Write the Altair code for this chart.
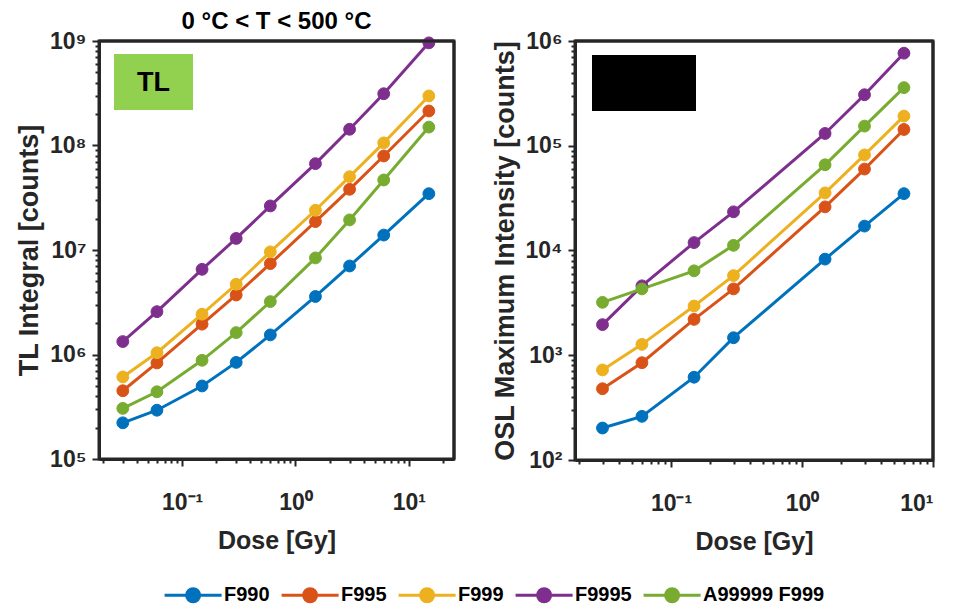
import math
import altair as alt
import pandas as pd

# ---------------- data ----------------
series = ["F990", "F995", "F999", "F9995", "A99999 F999"]
colors = ["#0072BD", "#D95319", "#EDB120", "#7E2F8E", "#77AC30"]

dose_tl = [0.03, 0.06, 0.15, 0.3, 0.6, 1.5, 3, 6, 15]
tl_F990 = [2.22e5, 2.93e5, 5.0e5, 8.4e5, 1.54e6, 3.59e6, 7.03e6, 1.39e7, 3.46e7]
tl_F995 = [4.5e5, 8.3e5, 1.95e6, 3.71e6, 7.4e6, 1.87e7, 3.81e7, 7.94e7, 2.14e8]
tl_F999 = [6.1e5, 1.04e6, 2.43e6, 4.7e6, 9.6e6, 2.4e7, 5.03e7, 1.06e8, 2.98e8]
tl_F9995 = [1.33e6, 2.57e6, 6.53e6, 1.29e7, 2.64e7, 6.7e7, 1.43e8, 3.13e8, 9.6e8]
tl_A99999 = [3.05e5, 4.4e5, 8.8e5, 1.62e6, 3.21e6, 8.4e6, 1.94e7, 4.68e7, 1.5e8]

dose_osl = [0.03, 0.06, 0.15, 0.3, 1.5, 3, 6]
osl_F990 = [202, 261, 617, 1.47e3, 8.27e3, 1.71e4, 3.49e4]
osl_F995 = [479, 849, 2.2e3, 4.3e3, 2.61e4, 5.99e4, 1.43e5]
osl_F999 = [724, 1.27e3, 2.95e3, 5.76e3, 3.55e4, 8.18e4, 1.92e5]
osl_F9995 = [1.96e3, 4.6e3, 1.19e4, 2.34e4, 1.31e5, 3.07e5, 7.65e5]
osl_A99999 = [3.2e3, 4.3e3, 6.4e3, 1.12e4, 6.58e4, 1.54e5, 3.59e5]

title_text = "0 °C < T < 500 °C"
x_title = "Dose [Gy]"
y_title_tl = "TL Integral [counts]"
y_title_osl = "OSL Maximum Intensity [counts]"
tl_box_text = ["TL"]

# decades used for axis ticks
x_decades_tl = [0.01, 0.1, 1, 10]
x_majors_tl = [0.1, 1.0, 10.0]
x_decades_osl = [0.01, 0.1, 1]
x_majors_osl = [0.1, 1.0, 10.0]
y_decades_tl = [1e5, 1e6, 1e7, 1e8]
y_majors_tl = [1e5, 1e6, 1e7, 1e8, 1e9]
y_decades_osl = [1e2, 1e3, 1e4, 1e5]
y_majors_osl = [1e2, 1e3, 1e4, 1e5, 1e6]

# ---------------- helpers ----------------
FONT = "Liberation Sans"
INK = "#262626"
SUP = {"-": "\u207b", "0": "\u2070", "1": "\u00b9", "2": "\u00b2", "3": "\u00b3",
       "4": "\u2074", "5": "\u2075", "6": "\u2076", "7": "\u2077", "8": "\u2078", "9": "\u2079"}


def sup(e):
    return "".join(SUP[c] for c in str(e))


def tick_values(decades, lo, hi):
    vals = []
    for d in decades:
        for m in range(1, 10):
            v = round(m * d, 10)
            if lo <= v <= hi:
                vals.append(v)
    return vals


def label_expr(majors):
    parts = []
    for v in majors:
        e = int(round(math.log10(v)))
        parts.append(f"datum.value == {float(v)!r} ? '10{sup(e)}'")
    return " : ".join(parts) + " : ''"


def major_test(majors):
    return " || ".join(f"datum.value == {float(v)!r}" for v in majors)


def axis(title, values, majors, label_padding, title_padding, title_size):
    return alt.Axis(
        title=title, values=values, labelExpr=label_expr(majors),
        labelOverlap=False, grid=False,
        tickSize={"condition": {"test": major_test(majors), "value": 7}, "value": 4},
        tickWidth=2, tickColor=INK, domainColor=INK, domainWidth=3,
        labelFont=FONT, labelFontSize=23, labelFontWeight="bold", labelColor=INK,
        labelPadding=label_padding,
        titleFont=FONT, titleFontWeight="bold", titleColor=INK, titleFontSize=title_size,
        titlePadding=title_padding,
    )


def long_table(doses, cols):
    rows = []
    for name, vals in zip(series, cols):
        for d, v in zip(doses, vals):
            rows.append({"dose": d, "value": v, "series": name})
    return pd.DataFrame(rows)


# legend symbol: a line segment with a dot in its middle (custom path, unit = sqrt(size)/2)
LEGEND_PATH = "M-1,0H4M2.07,0A0.57,0.57,0,1,1,0.93,0A0.57,0.57,0,1,1,2.07,0Z"
legend = alt.Legend(title=None, orient="none", legendX=64, legendY=541,
                    direction="horizontal")

one_row = pd.DataFrame({"t": [""]})


def panel(df, xdom, ydom, xvals, xmaj, yvals, ymaj, ytitle, w, h, box_layers, title=None):
    xenc = alt.X("dose:Q", scale=alt.Scale(type="log", domain=xdom, nice=False),
                 axis=axis(x_title, xvals, xmaj, 25, 14, 25))
    yenc = alt.Y("value:Q", scale=alt.Scale(type="log", domain=ydom, nice=False),
                 axis=axis(ytitle, yvals, ymaj, 6, 6, 27))
    stroke = alt.Stroke("series:N", scale=alt.Scale(domain=series, range=colors), legend=legend)
    fill = alt.Fill("series:N", scale=alt.Scale(domain=series, range=colors), legend=legend)
    base = alt.Chart(df)
    lines = base.mark_line(strokeWidth=3).encode(x=xenc, y=yenc, stroke=stroke)
    pts = base.mark_point(filled=True, size=140, opacity=1, strokeWidth=1).encode(
        x=xenc, y=yenc, fill=fill, stroke=stroke)
    frame_src = alt.Chart(one_row)
    top_rule = frame_src.mark_rule(color=INK, strokeWidth=3).encode(
        x=alt.value(0), x2=alt.value(w), y=alt.value(0))
    right_rule = frame_src.mark_rule(color=INK, strokeWidth=3).encode(
        x=alt.value(w), y=alt.value(0), y2=alt.value(h))
    ch = alt.layer(lines, pts, *box_layers, top_rule, right_rule).properties(width=w, height=h)
    if title is not None:
        ch = ch.properties(title=title)
    return ch


tl_df = long_table(dose_tl, [tl_F990, tl_F995, tl_F999, tl_F9995, tl_A99999])
osl_df = long_table(dose_osl, [osl_F990, osl_F995, osl_F999, osl_F9995, osl_A99999])

box_df = pd.DataFrame({"t": tl_box_text})
tl_box = alt.Chart(box_df).mark_rect(color="#92D050").encode(
    x=alt.value(15), x2=alt.value(94), y=alt.value(13), y2=alt.value(69))
tl_txt = alt.Chart(box_df).mark_text(font=FONT, fontSize=27, fontWeight="bold",
                                     color="black", baseline="middle").encode(
    x=alt.value(54.5), y=alt.value(42), text="t:N")
osl_box = alt.Chart(one_row).mark_rect(color="black").encode(
    x=alt.value(17), x2=alt.value(121), y=alt.value(14), y2=alt.value(70))

left = panel(tl_df, [0.0185, 25], [1e5, 1e9],
             tick_values(x_decades_tl, 0.0185, 25), x_majors_tl,
             tick_values(y_decades_tl, 1e5, 1e9) + [1e9], y_majors_tl,
             y_title_tl, 355, 418, [tl_box, tl_txt],
             title=alt.TitleParams(title_text, font=FONT, fontSize=24, fontWeight="bold",
                                   color="black", anchor="middle", frame="group", offset=-4))
right = panel(osl_df, [0.0185, 10], [1e2, 1e6],
              tick_values(x_decades_osl, 0.0185, 10) + [10.0], x_majors_osl,
              tick_values(y_decades_osl, 1e2, 1e6) + [1e6], y_majors_osl,
              y_title_osl, 358, 419, [osl_box])

chart = alt.hconcat(left, right, spacing=32).properties(
    padding={"left": 6, "top": 0, "right": 0, "bottom": 0},
    background="white",
).configure_view(
    stroke=INK, strokeWidth=3
).configure_legend(
    symbolType=LEGEND_PATH, symbolSize=520, symbolStrokeWidth=3,
    labelFont=FONT, labelFontSize=20, labelFontWeight="bold", labelColor="black",
    labelOffset=35, columnPadding=5, symbolOpacity=1
)

chart.save("out.html", embed_options={"renderer": "svg", "actions": False})
